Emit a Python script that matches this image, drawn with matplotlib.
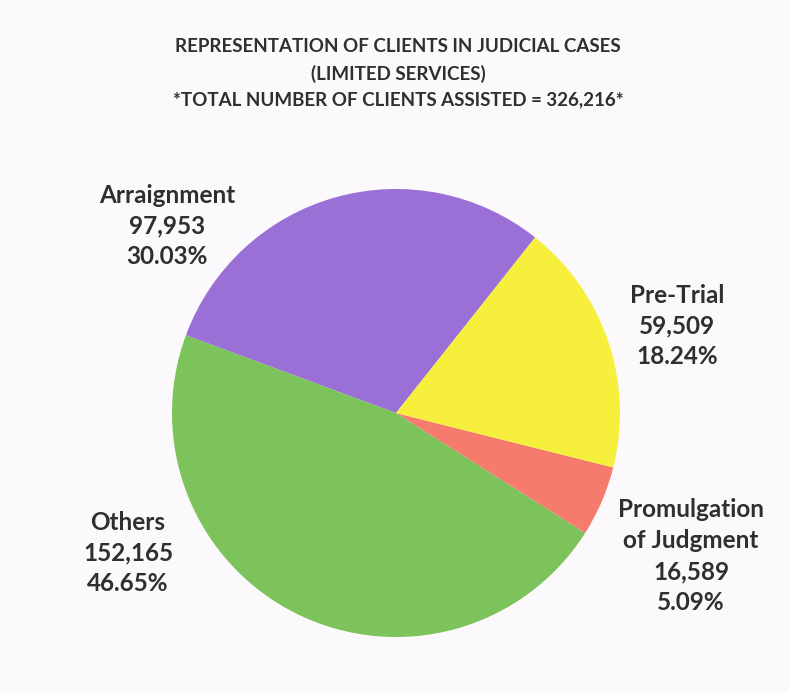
import matplotlib.pyplot as plt

# clients per stage, listed counterclockwise from the top-right edge
stages = ["Arraignment", "Others", "Promulgation\nof Judgment", "Pre-Trial"]
clients = [97953, 152165, 16589, 59509]
colors = ["#9a6fd6", "#7cc35b", "#f57c6c", "#f6f03d"]

title_lines = [
    "REPRESENTATION OF CLIENTS IN JUDICIAL CASES",
    "(LIMITED SERVICES)",
    "*TOTAL NUMBER OF CLIENTS ASSISTED = 326,216*",
]

W, H = 789, 693
BG = "#fbf9fb"

fig = plt.figure(figsize=(W / 100, H / 100), dpi=100, facecolor=BG)

cx, cy, r = 396, 413, 224
ax = fig.add_axes([(cx - r) / W, (H - cy - r) / H, 2 * r / W, 2 * r / H])
ax.set_facecolor(BG)

ax.pie(clients, colors=colors, startangle=51.6, counterclock=True,
       wedgeprops=dict(linewidth=0))
ax.set_xlim(-1, 1)
ax.set_ylim(-1, 1)
ax.set_aspect("equal")
ax.axis("off")

total = sum(clients)
font = ["Lato", "DejaVu Sans"]

# label anchor points (pixel centres of each text block)
label_pos = {
    "Arraignment": (167, 226),
    "Others": (128, 553),
    "Promulgation\nof Judgment": (691, 556),
    "Pre-Trial": (677, 326),
}

for name, n in zip(stages, clients):
    x, y = label_pos[name]
    txt = f"{name}\n{n:,}\n{n / total * 100:.2f}%"
    fig.text(x / W, 1 - y / H, txt, ha="center", va="center",
             fontsize=17.5, fontweight="bold", color="#2f2f2f",
             family=font, linespacing=1.42)

for i, line in enumerate(title_lines):
    fig.text(398 / W, 1 - (47 + i * 26.5) / H, line, ha="center", va="center",
             fontsize=13.5, fontweight="bold", color="#2f2f2f", family=font)

fig.savefig("out.png", dpi=100, facecolor=BG)
